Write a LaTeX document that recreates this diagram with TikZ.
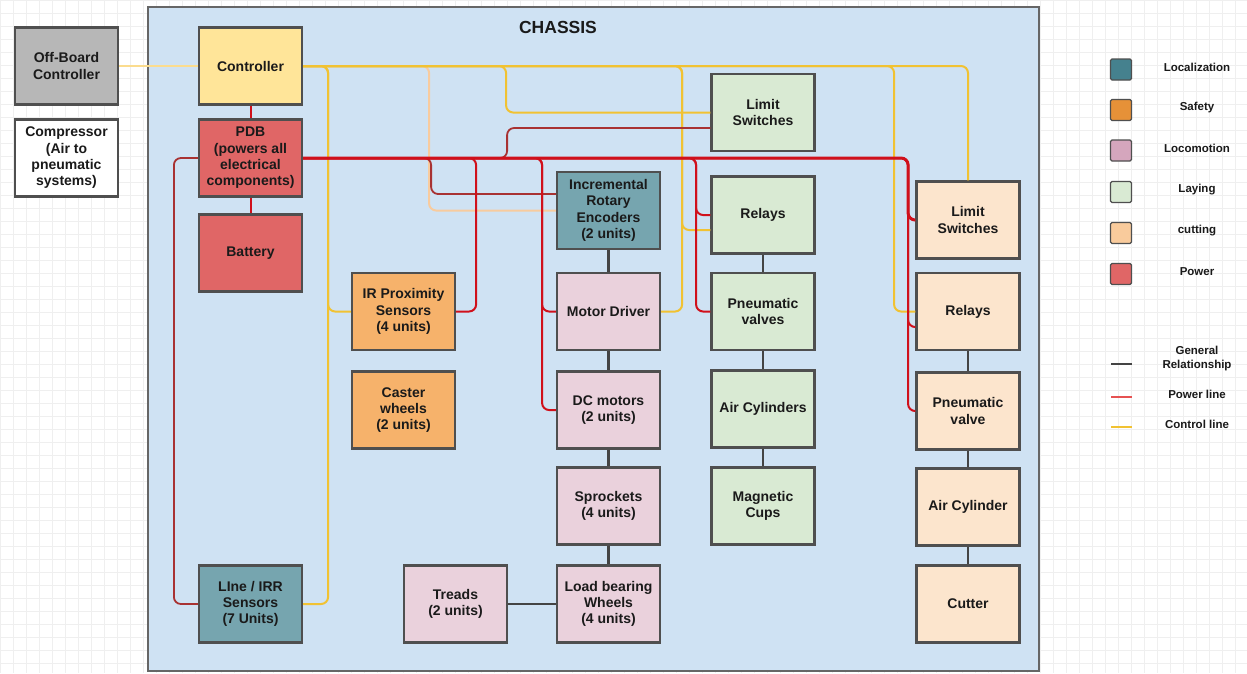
\documentclass[tikz,border=0pt]{standalone}
\usepackage{fontspec}
\setmainfont{Liberation Sans}
\definecolor{gridc}{HTML}{EFEFEF}
\definecolor{chfill}{HTML}{CFE2F3}
\definecolor{chdraw}{HTML}{666666}
\definecolor{bord}{HTML}{4F4F4F}
\definecolor{txt}{HTML}{1A1A1A}
\definecolor{offc}{HTML}{B7B7B7}
\definecolor{ctrlc}{HTML}{FFE599}
\definecolor{powc}{HTML}{E06666}
\definecolor{safc}{HTML}{F6B26B}
\definecolor{locc}{HTML}{76A5AF}
\definecolor{motc}{HTML}{EAD1DC}
\definecolor{layc}{HTML}{D9EAD3}
\definecolor{cutc}{HTML}{FCE5CD}
\definecolor{lgloc}{HTML}{45818E}
\definecolor{lgsaf}{HTML}{E69138}
\definecolor{lgmot}{HTML}{D5A6BD}
\definecolor{lglay}{HTML}{D9EAD3}
\definecolor{lgcut}{HTML}{F9CB9C}
\definecolor{lgpow}{HTML}{E06666}
\definecolor{ctlline}{HTML}{F1C232}
\definecolor{paleyel}{HTML}{FBDC8E}
\definecolor{palepeach}{HTML}{F8CB9E}
\definecolor{redline}{HTML}{D0101B}
\definecolor{darkred}{HTML}{A83232}
\definecolor{genline}{HTML}{444444}
\begin{document}
\begin{tikzpicture}[x=1pt,y=-1pt,
  box/.style={draw=bord, line width=2.2pt, minimum width=103pt, minimum height=77pt,
    inner sep=2pt, align=center, text=txt, font=\bfseries\fontsize{14}{16.3}\selectfont},
  lgsq/.style={draw=bord, line width=1.3pt, rounded corners=1.5pt, minimum width=21pt, minimum height=21pt, inner sep=0pt},
  lgtxt/.style={align=center, text=txt, font=\bfseries\fontsize{11.5}{14}\selectfont},
  ctl/.style={draw=ctlline, line width=2pt, rounded corners=7pt},
  ctlpale/.style={draw=paleyel, line width=2pt, rounded corners=7pt},
  ctlpeach/.style={draw=palepeach, line width=2pt, rounded corners=7pt},
  pwr/.style={draw=redline, line width=2pt, rounded corners=7pt},
  pwrbus/.style={draw=redline, line width=3pt, rounded corners=7pt},
  pwrdark/.style={draw=darkred, line width=1.8pt, rounded corners=7pt},
  gen/.style={draw=genline, line width=2.2pt},
  lgline/.style={line width=2pt}
]
\useasboundingbox (0,0) rectangle (1247,673);
\fill[white] (0,0) rectangle (1247,673);
\foreach \i in {0,13,...,1247} \draw[gridc, line width=0.5pt] (\i,0) -- (\i,673);
\foreach \j in {0,13,...,673} \draw[gridc, line width=0.5pt] (0,\j) -- (1247,\j);

% chassis
\node[draw=chdraw, fill=chfill, line width=1.5pt, minimum width=891pt, minimum height=664pt, inner sep=0pt] (chassis) at (593.5,339) {};
\node[text=txt, font=\bfseries\fontsize{17.5}{20}\selectfont] (title) at (558,27) {CHASSIS};

% outside boxes
\node[box, fill=offc] (off) at (66.5,66) {Off-Board\\Controller};
\node[box, fill=white] (comp) at (66.5,158) {Compressor\\(Air to\\pneumatic\\systems)};

% left column
\node[box, fill=ctrlc] (ctrl) at (250.5,66) {Controller};
\node[box, fill=powc] (pdb) at (250.5,158) {PDB\\(powers all\\electrical\\components)};
\node[box, fill=powc] (batt) at (250.5,253) {Battery};
\node[box, fill=locc] (lines) at (250.5,604) {LIne / IRR\\Sensors\\(7 Units)};

% safety
\node[box, fill=safc] (irp) at (403.5,311.5) {IR Proximity\\Sensors\\(4 units)};
\node[box, fill=safc] (caster) at (403.5,410) {Caster\\wheels\\(2 units)};
\node[box, fill=motc] (treads) at (455.5,604) {Treads\\(2 units)};

% locomotion column
\node[box, fill=locc] (enc) at (608.5,210.5) {Incremental\\Rotary\\Encoders\\(2 units)};
\node[box, fill=motc] (md) at (608.5,311.5) {Motor Driver};
\node[box, fill=motc] (dc) at (608.5,410) {DC motors\\(2 units)};
\node[box, fill=motc] (spr) at (608.5,506) {Sprockets\\(4 units)};
\node[box, fill=motc] (lbw) at (608.5,604) {Load bearing\\Wheels\\(4 units)};

% laying column
\node[box, fill=layc] (lls) at (763,112.5) {Limit\\Switches};
\node[box, fill=layc] (lrel) at (763,215) {Relays};
\node[box, fill=layc] (lpv) at (763,311.5) {Pneumatic\\valves};
\node[box, fill=layc] (lac) at (763,409) {Air Cylinders};
\node[box, fill=layc] (lmc) at (763,506) {Magnetic\\Cups};

% cutting column
\node[box, fill=cutc] (cls) at (968,220) {Limit\\Switches};
\node[box, fill=cutc] (crel) at (968,311.5) {Relays};
\node[box, fill=cutc] (cpv) at (968,411) {Pneumatic\\valve};
\node[box, fill=cutc] (cac) at (968,507) {Air Cylinder};
\node[box, fill=cutc] (ccut) at (968,604) {Cutter};

% general relationships
\draw[gen] (enc.south) -- (md.north);
\draw[gen] (md.south) -- (dc.north);
\draw[gen] (dc.south) -- (spr.north);
\draw[gen] (spr.south) -- (lbw.north);
\draw[gen] (treads.east) -- (lbw.west);
\draw[gen] (lrel.south) -- (lpv.north);
\draw[gen] (lpv.south) -- (lac.north);
\draw[gen] (lac.south) -- (lmc.north);
\draw[gen] (crel.south) -- (cpv.north);
\draw[gen] (cpv.south) -- (cac.north);
\draw[gen] (cac.south) -- (ccut.north);

% control lines
\draw[ctlpale] (off.east) -- (ctrl.west);
\draw[ctlpeach] (ctrl.east) -- ++(126,0) |- (enc.west);
\draw[ctl] (ctrl.east) -| (cls.north);
\draw[ctl] (ctrl.east) -- ++(591,0) |- (crel.west);
\draw[ctl] (ctrl.east) -- ++(379,0) |- (md.east);
\draw[ctl] (ctrl.east) -- ++(379,0) |- ([yshift=-15pt]lrel.west);
\draw[ctl] (ctrl.east) -- ++(203,0) |- (lls.west);
\draw[ctl] (ctrl.east) -- ++(25,0) |- (irp.west);
\draw[ctl] (ctrl.east) -- ++(25,0) |- (lines.east);

% power lines
\draw[pwr] (ctrl.south) -- (pdb.north);
\draw[pwr] (pdb.south) -- (batt.north);
\draw[pwrdark] (pdb.west) -- ++(-24,0) |- (lines.west);
\draw[pwrdark] (pdb.east) -- ++(128,0) |- ([yshift=16.5pt]enc.west);
\draw[pwrdark] (pdb.east) -- ++(204,0) |- ([yshift=-15.5pt]lls.west);
\draw[pwr] (pdb.east) -- ++(173,0) |- (irp.east);
\draw[pwr] (pdb.east) -- ++(239,0) |- (md.west);
\draw[pwr] (pdb.east) -- ++(239,0) |- (dc.west);
\draw[pwr] (pdb.east) -- ++(393,0) |- (lrel.west);
\draw[pwr] (pdb.east) -- ++(393,0) |- (lpv.west);
\draw[pwr] (pdb.east) -- ++(605,0) |- ([yshift=-15.5pt]crel.west);
\draw[pwr] (pdb.east) -- ++(605,0) |- (cpv.west);
\draw[pwrbus] (pdb.east) -- ++(605,0) |- (cls.west);

% legend
\node[lgsq, fill=lgloc] (sq1) at (1121,69.5) {};
\node[lgsq, fill=lgsaf] (sq2) at (1121,110) {};
\node[lgsq, fill=lgmot] (sq3) at (1121,150.5) {};
\node[lgsq, fill=lglay] (sq4) at (1121,192) {};
\node[lgsq, fill=lgcut] (sq5) at (1121,233) {};
\node[lgsq, fill=lgpow] (sq6) at (1121,274) {};
\node[lgtxt] (lt1) at (1197,67) {Localization};
\node[lgtxt] (lt2) at (1197,108) {Safety};
\node[lgtxt] (lt3) at (1197,148.5) {Locomotion};
\node[lgtxt] (lt4) at (1197,190) {Laying};
\node[lgtxt] (lt5) at (1197,231) {cutting};
\node[lgtxt] (lt6) at (1197,271.5) {Power};
\coordinate (g1) at (1111,364); \coordinate (g2) at (1132,364);
\coordinate (p1) at (1111,397); \coordinate (p2) at (1132,397);
\coordinate (c1) at (1111,427); \coordinate (c2) at (1132,427);
\draw[lgline, genline] (g1) -- (g2);
\draw[lgline, lgpow!80!red] (p1) -- (p2);
\draw[lgline, ctlline] (c1) -- (c2);
\node[lgtxt] (lt7) at (1197,359) {General\\Relationship};
\node[lgtxt] (lt8) at (1197,394) {Power line};
\node[lgtxt] (lt9) at (1197,424) {Control line};
\end{tikzpicture}
\end{document}
